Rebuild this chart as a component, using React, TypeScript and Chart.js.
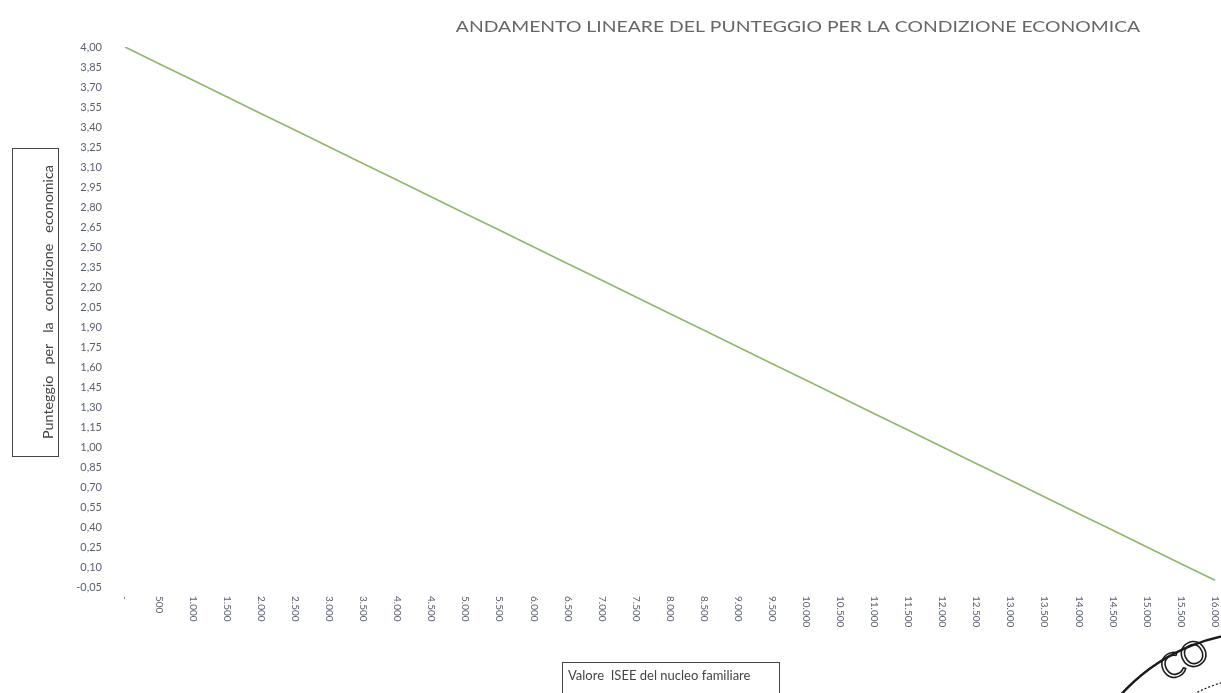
import React, { useEffect, useRef } from "react";
import { Chart, registerables } from "chart.js";

Chart.register(...registerables);

const chartTitle = "ANDAMENTO LINEARE DEL PUNTEGGIO PER LA CONDIZIONE ECONOMICA";
const yAxisTitle = "Punteggio   per   la   condizione   economica";
const xAxisTitle = "Valore  ISEE del nucleo familiare";

const iseeLabels = [
  "-", "500", "1.000", "1.500", "2.000", "2.500", "3.000", "3.500", "4.000",
  "4.500", "5.000", "5.500", "6.000", "6.500", "7.000", "7.500", "8.000",
  "8.500", "9.000", "9.500", "10.000", "10.500", "11.000", "11.500", "12.000",
  "12.500", "13.000", "13.500", "14.000", "14.500", "15.000", "15.500", "16.000",
];

const scores = [
  4.0, 3.875, 3.75, 3.625, 3.5, 3.375, 3.25, 3.125, 3.0,
  2.875, 2.75, 2.625, 2.5, 2.375, 2.25, 2.125, 2.0,
  1.875, 1.75, 1.625, 1.5, 1.375, 1.25, 1.125, 1.0,
  0.875, 0.75, 0.625, 0.5, 0.375, 0.25, 0.125, 0.0,
];

const yMin = -0.05;
const yMax = 4.0;
const yStep = 0.15;

const FONT = "Lato, 'Open Sans', sans-serif";
const TEXT_COLOR = "#5b6070";

const decorPlugin = {
  id: "decor",
  afterDraw(chart: any) {
    const ctx = chart.ctx as CanvasRenderingContext2D;
    const area = chart.chartArea;
    const xs = chart.scales.x;

    // Chart title (slightly stretched horizontally like the scanned original)
    ctx.save();
    ctx.fillStyle = "#666666";
    ctx.font = `16px ${FONT}`;
    ctx.textAlign = "center";
    ctx.textBaseline = "middle";
    ctx.translate(798, 27);
    ctx.scale(1.21, 1);
    ctx.fillText(chartTitle, 0, 0);
    ctx.restore();

    // X tick labels, rotated to read top-to-bottom
    ctx.save();
    ctx.fillStyle = TEXT_COLOR;
    ctx.font = `10px ${FONT}`;
    ctx.textAlign = "left";
    ctx.textBaseline = "middle";
    xs.ticks.forEach((_t: any, i: number) => {
      const x = xs.getPixelForTick(i);
      ctx.save();
      ctx.translate(x, area.bottom + 9);
      ctx.rotate(Math.PI / 2);
      ctx.fillText(String(iseeLabels[i]), 0, 0);
      ctx.restore();
    });
    ctx.restore();

    // Y axis title box
    ctx.save();
    ctx.strokeStyle = "#444";
    ctx.lineWidth = 1;
    ctx.strokeRect(12.5, 148.5, 46, 308);
    ctx.fillStyle = "#444";
    ctx.font = `14.3px ${FONT}`;
    ctx.translate(48, 302);
    ctx.rotate(-Math.PI / 2);
    ctx.textAlign = "center";
    ctx.textBaseline = "middle";
    ctx.fillText(yAxisTitle, 0, 0);
    ctx.restore();

    // X axis title box
    ctx.save();
    ctx.strokeStyle = "#444";
    ctx.lineWidth = 1;
    ctx.strokeRect(562.5, 662.5, 217, 40);
    ctx.fillStyle = "#444";
    ctx.font = `13px ${FONT}`;
    ctx.textAlign = "left";
    ctx.textBaseline = "middle";
    ctx.fillText(xAxisTitle, 568, 676);
    ctx.restore();

    // Partial stamp in the corner (scan artefact)
    ctx.save();
    ctx.strokeStyle = "#1a1a1a";
    ctx.lineWidth = 2.5;
    ctx.beginPath();
    ctx.arc(1262, 822, 190, 0, Math.PI * 2);
    ctx.stroke();
    ctx.lineWidth = 1.2;
    ctx.setLineDash([2, 2]);
    ctx.beginPath();
    ctx.arc(1262, 822, 145, 0, Math.PI * 2);
    ctx.stroke();
    ctx.setLineDash([]);
    ctx.lineWidth = 1.6;
    ctx.font = `34px ${FONT}`;
    ctx.translate(1168, 682);
    ctx.rotate(-0.5);
    ctx.strokeText("CO", 0, 0);
    ctx.restore();
  },
};

export default function App() {
  const ref = useRef<HTMLCanvasElement>(null);

  useEffect(() => {
    document.body.style.margin = "0";
    document.body.style.overflow = "hidden";
    const canvas = ref.current;
    if (!canvas) return;
    const chart = new Chart(canvas, {
      type: "line",
      data: {
        labels: iseeLabels,
        datasets: [
          {
            data: scores,
            borderColor: "#8cb86a",
            borderWidth: 1.6,
            pointRadius: 0,
            fill: false,
            tension: 0,
          },
        ],
      },
      options: {
        animation: false,
        responsive: false,
        layout: { padding: { left: 0, right: 6, top: 47, bottom: 0 } },
        plugins: {
          legend: { display: false },
          title: { display: false },
          tooltip: { enabled: false },
        },
        scales: {
          x: {
            type: "category",
            offset: false,
            grid: { display: false, drawTicks: false },
            border: { display: false },
            ticks: { display: false },
            afterFit: (scale: any) => {
              scale.height = 106;
            },
          },
          y: {
            type: "linear",
            min: yMin,
            max: yMax,
            grid: { display: false, drawTicks: false },
            border: { display: false },
            ticks: {
              stepSize: yStep,
              padding: 23,
              color: TEXT_COLOR,
              font: { family: FONT, size: 11 },
              callback: (v: any) => Number(v).toFixed(2).replace(".", ","),
            },
            afterFit: (scale: any) => {
              scale.width = 125;
            },
          },
        },
      },
      plugins: [decorPlugin],
    });
    return () => chart.destroy();
  }, []);

  return (
    <div style={{ width: 1221, height: 693, background: "#fff" }}>
      <canvas ref={ref} width={1221} height={693} />
    </div>
  );
}
